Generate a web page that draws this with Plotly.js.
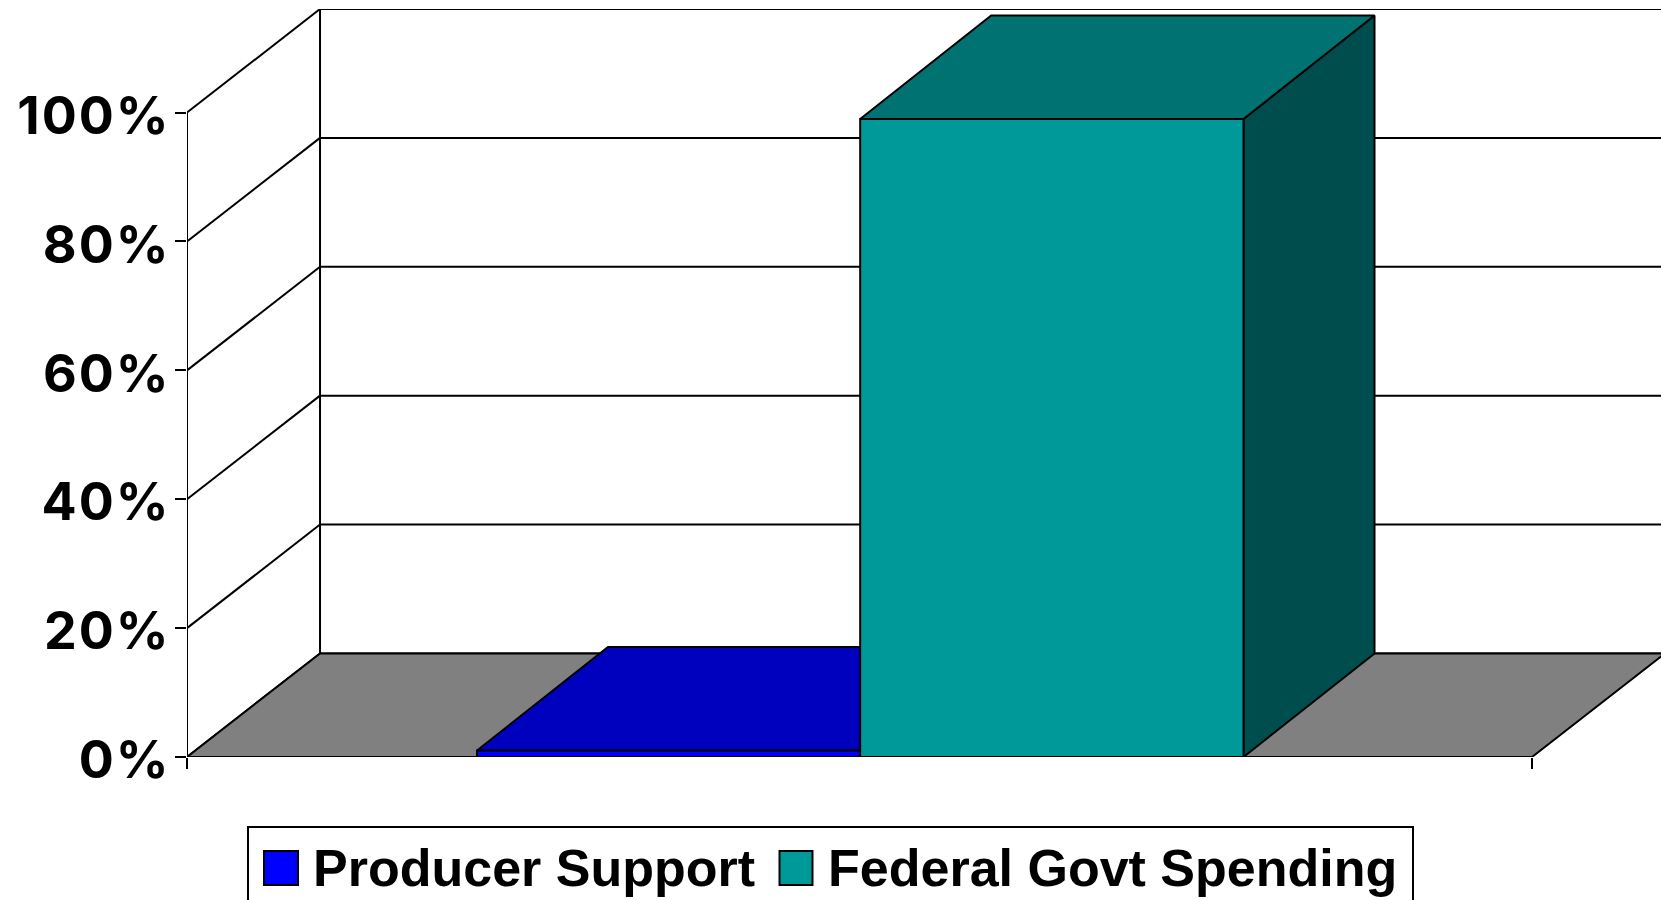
<!DOCTYPE html>
<html>
<head>
<meta charset="utf-8">
<script src="https://cdn.plot.ly/plotly-3.0.1.min.js"></script>
<style>
html,body{margin:0;padding:0;background:#fff;overflow:hidden}
g.ytick{transform:translate(6px,3px)}
g.ytick text{letter-spacing:2px}
</style>
</head>
<body>
<div id="chart" style="width:1661px;height:900px"></div>
<script>
// Data
const seriesNames = ['Producer Support', 'Federal Govt Spending'];
const seriesValues = [1, 99];
const frontColors = ['#0000FF', '#009999'];
const topColors = ['#0000BF', '#007272'];
const sideColors = ['#00007F', '#004D4D'];
const tickValues = [0, 20, 40, 60, 80, 100];
const tickLabels = ['0%', '20%', '40%', '60%', '80%', '100%'];

// 3-D projection in axis units: the depth of the box along each axis
const depthX = 0.0989, depthY = 16.07, barDepthX = 0.0974;
const xMax = 1.0959;
const barLeft = [0.2156, 0.5005];
const barWidth = 0.2850;

const ink = {color: '#000', width: 2};
const traces = [];
function lineTrace(x, y) {
  traces.push({type: 'scatter', mode: 'lines', x, y, line: ink, showlegend: false, hoverinfo: 'skip', cliponaxis: false});
}
function faceTrace(x, y, fillcolor) {
  traces.push({type: 'scatter', mode: 'lines', x, y, fill: 'toself', fillcolor,
    line: ink, showlegend: false, hoverinfo: 'skip', cliponaxis: false});
}

// Legend entries (the swatch squares are enlarged behind them with shapes)
seriesNames.forEach((name, i) => traces.push({
  type: 'scatter', mode: 'markers', x: [null], y: [null], name,
  marker: {symbol: 'square', size: 12, color: frontColors[i], line: {width: 0}},
  hoverinfo: 'skip'
}));

// Walls: back wall frame, gridlines and slanted side-wall lines
lineTrace([0, 0], [0, 100]);
lineTrace([depthX, depthX], [depthY, 100 + depthY]);
tickValues.forEach(v => {
  lineTrace([0, depthX], [v, v + depthY]);
  lineTrace([depthX, xMax], [v + depthY, v + depthY]);
});

// Floor
faceTrace([0, 1, 1 + depthX, depthX, 0], [0, 0, depthY, depthY, 0], '#808080');

// Bars, back to front
seriesValues.forEach((v, i) => {
  const l = barLeft[i], r = l + barWidth;
  faceTrace([r, r + barDepthX, r + barDepthX, r, r], [0, depthY, v + depthY, v, 0], sideColors[i]);
  faceTrace([l, r, r + barDepthX, l + barDepthX, l], [v, v, v + depthY, v + depthY, v], topColors[i]);
  faceTrace([l, r, r, l, l], [0, 0, v, v, 0], frontColors[i]);
});

// Front edge of the floor
lineTrace([0, 1], [0, 0]);

// Page pixels to paper fractions, for the legend frame and swatches
const px = x => (x - 187) / 1474;
const py = y => (757 - y) / 748;
const swatch = (x0, x1, color) => ({
  type: 'rect', xref: 'paper', yref: 'paper', layer: 'above',
  x0: px(x0), x1: px(x1), y0: py(885), y1: py(851),
  line: {color: '#000', width: 2}, fillcolor: color
});

const layout = {
  width: 1661, height: 900,
  margin: {l: 187, r: 0, t: 9, b: 143, pad: 0},
  paper_bgcolor: '#fff', plot_bgcolor: '#fff',
  showlegend: true,
  hovermode: false,
  xaxis: {
    range: [0, xMax], showgrid: false, zeroline: false, showline: false,
    tickmode: 'array', tickvals: [0, 1], ticktext: ['', ''],
    ticks: 'outside', ticklen: 11, tickwidth: 2, tickcolor: '#000', fixedrange: true
  },
  yaxis: {
    range: [0, 100 + depthY], showgrid: false, zeroline: false, showline: false,
    tickmode: 'array', tickvals: tickValues, ticktext: tickLabels,
    ticks: 'outside', ticklen: 11, tickwidth: 2, tickcolor: '#000', fixedrange: true,
    ticklabelstandoff: 0,
    tickfont: {family: 'Inter', size: 52, weight: 'bold', color: '#000'}
  },
  shapes: [
    {
      type: 'rect', xref: 'paper', yref: 'paper', layer: 'below',
      x0: px(248), x1: px(1413), y0: py(910), y1: py(827),
      line: {color: '#000', width: 2}, fillcolor: '#fff'
    },
    swatch(264, 298, frontColors[0]),
    swatch(779.5, 812.5, frontColors[1])
  ],
  legend: {
    orientation: 'h', xref: 'container', yref: 'container',
    x: 245 / 1661, xanchor: 'left', y: 1 - 825 / 900, yanchor: 'top',
    bgcolor: 'rgba(0,0,0,0)', borderwidth: 0,
    itemwidth: 58, itemsizing: 'trace', itemclick: false, itemdoubleclick: false,
    font: {family: 'Liberation Sans', size: 52, weight: 'bold', color: '#000'}
  }
};
Plotly.newPlot('chart', traces, layout, {displayModeBar: false, responsive: false});
</script>
</body>
</html>
